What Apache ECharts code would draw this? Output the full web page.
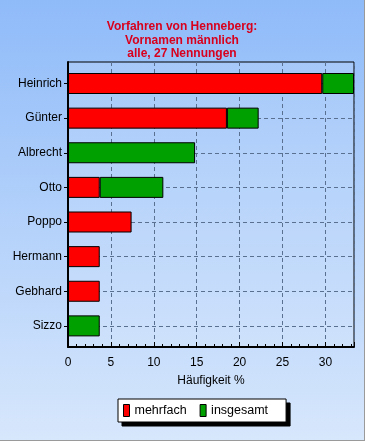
<!DOCTYPE html>
<html><head><meta charset="utf-8">
<script src="https://cdn.jsdelivr.net/npm/echarts@6/dist/echarts.min.js"></script>
<style>
html,body{margin:0;padding:0;}
#wrap{width:364px;height:440px;border-right:1px solid #9a9a9a;border-bottom:1px solid #9a9a9a;}
#c{width:364px;height:440px;}
</style></head>
<body><div id="wrap"><div id="c"></div></div>
<script>
const titleLines = ['Vorfahren von Henneberg:', 'Vornamen männlich', 'alle, 27 Nennungen'];
const categories = ['Heinrich', 'Günter', 'Albrecht', 'Otto', 'Poppo', 'Hermann', 'Gebhard', 'Sizzo'];
const mehrfach = [29.63, 18.52, 0, 3.70, 7.41, 3.70, 3.70, 0];
const insgesamtExtra = [3.70, 3.70, 14.81, 7.41, 0, 0, 0, 3.70];
const xMax = 33.33;
const xTicks = [0, 5, 10, 15, 20, 25, 30];
const xName = 'Häufigkeit %';
const seriesNames = ['mehrfach', 'insgesamt'];

const nz = arr => arr.map(v => v === 0 ? '-' : v);
const font = 'Liberation Sans, Arial, sans-serif';
const gridColor = '#5a7090';
const legendBase = {
  data: seriesNames, orient: 'horizontal',
  padding: [5, 18, 5, 5], itemGap: 13, itemWidth: 6, itemHeight: 12, icon: 'rect',
  selectedMode: false
};
const chart = echarts.init(document.getElementById('c'));
chart.setOption({
  backgroundColor: new echarts.graphic.LinearGradient(0, 0, 0, 1, [
    {offset: 0, color: '#8fbbf9'}, {offset: 1, color: '#d7e7fc'}]),
  animation: false,
  textStyle: {fontFamily: font},
  title: {
    text: titleLines.join('\n'), left: 'center', top: 15,
    textStyle: {color: '#d8001c', fontSize: 12, fontWeight: 'bold', lineHeight: 13.5, fontFamily: font}
  },
  legend: [
    Object.assign({}, legendBase, {
      left: 122, top: 403, z: 4,
      backgroundColor: '#000', borderColor: '#000', borderWidth: 1,
      itemStyle: {color: '#000', borderColor: '#000', borderWidth: 1},
      textStyle: {fontSize: 12.5, color: '#000', fontFamily: font}
    }),
    Object.assign({}, legendBase, {
      left: 118, top: 399, z: 6,
      backgroundColor: '#ffffff', borderColor: '#000', borderWidth: 1,
      itemStyle: {borderColor: '#000', borderWidth: 1},
      textStyle: {fontSize: 12.5, color: '#000', fontFamily: font}
    })
  ],
  grid: [
    {left: 68, right: 10, top: 62, bottom: 93, show: true, borderColor: '#000', borderWidth: 1,
     backgroundColor: 'rgba(255,255,255,0.12)'},
    {left: 68, right: 10, top: 66.2, bottom: 96.8}
  ],
  xAxis: [
    {gridIndex: 0, type: 'value', min: 0, max: xMax, interval: 5,
     axisLine: {show: true, onZero: false, lineStyle: {color: '#000', width: 2}},
     axisTick: {show: true, inside: true, length: 5, lineStyle: {color: '#000'}},
     minorTick: {show: true, splitNumber: 5, length: 3, lineStyle: {color: '#000'}},
     axisLabel: {color: '#000', fontSize: 12, margin: 10, fontFamily: font,
       formatter: v => xTicks.includes(v) ? String(v) : '', showMaxLabel: false},
     splitLine: {show: true, lineStyle: {color: gridColor, type: [4, 3], width: 1}},
     name: xName, nameLocation: 'middle', nameGap: 28,
     nameTextStyle: {color: '#000', fontSize: 12, fontFamily: font}},
    {gridIndex: 1, type: 'value', min: 0, max: xMax, show: false}
  ],
  yAxis: [
    {gridIndex: 0, type: 'value', min: 0, max: 1, show: true,
     axisLine: {show: true, lineStyle: {color: '#000', width: 2}},
     axisTick: {show: false}, axisLabel: {show: false}, splitLine: {show: false}},
    {gridIndex: 1, type: 'category', data: categories, inverse: true,
     axisLine: {show: false},
     axisTick: {show: true, alignWithLabel: true, length: 4, lineStyle: {color: '#000'}},
     axisLabel: {color: '#000', fontSize: 12, margin: 6, fontFamily: font},
     splitLine: {show: false}}
  ],
  series: [
    {name: 'gridlines', type: 'line', xAxisIndex: 1, yAxisIndex: 1, data: [], z: 1,
     markLine: {silent: true, symbol: 'none', label: {show: false}, z: 1,
       lineStyle: {color: gridColor, type: [4, 3], width: 1},
       data: categories.map(c => ({yAxis: c}))}},
    {name: seriesNames[0], type: 'bar', stack: 's', xAxisIndex: 1, yAxisIndex: 1, z: 3,
     data: nz(mehrfach), barWidth: 21,
     itemStyle: {color: '#ff0000', borderColor: '#000', borderWidth: 1}},
    {name: seriesNames[1], type: 'bar', stack: 's', xAxisIndex: 1, yAxisIndex: 1, z: 3,
     data: nz(insgesamtExtra), barWidth: 21,
     itemStyle: {color: '#00a000', borderColor: '#000', borderWidth: 1}}
  ]
});
</script></body></html>
